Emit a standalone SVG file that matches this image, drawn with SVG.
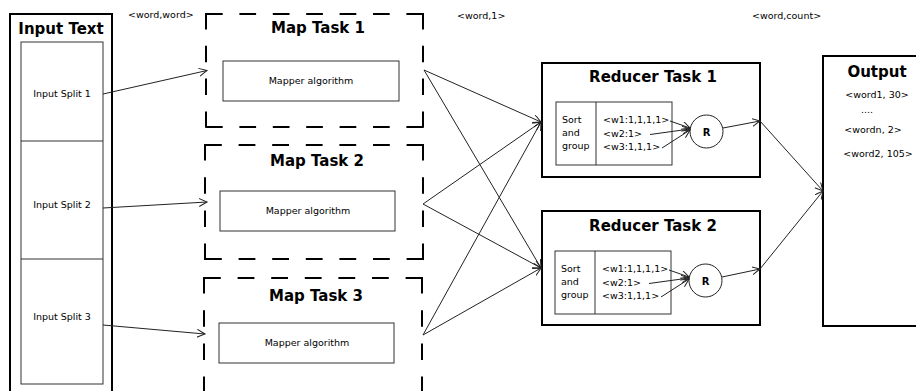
<svg xmlns="http://www.w3.org/2000/svg" width="916" height="391" viewBox="0 0 916 391">
  <style>
    text { font-family: "DejaVu Sans", "Liberation Sans", sans-serif; fill: #000; }
    .title { font-size: 15px; font-weight: bold; text-anchor: middle; }
    .small { font-size: 9.5px; }
    .mid { text-anchor: middle; }
    .frame { fill: #fff; stroke: #000; stroke-width: 2; }
    .inner { fill: none; stroke: #333; stroke-width: 1; }
    .dash { fill: none; stroke: #000; stroke-width: 2; }
    .conn { fill: none; stroke: #222; stroke-width: 1; marker-end: url(#open); }
  </style>
  <defs>
    <marker id="open" markerUnits="userSpaceOnUse" markerWidth="10" markerHeight="10" refX="8" refY="4" orient="auto">
      <path d="M0,0 L8,4 L0,8" fill="none" stroke="#222" stroke-width="1"/>
    </marker>
  </defs>
  <rect width="916" height="391" fill="#fff"/>

  <!-- input text column with its three splits -->
  <g id="input-text">
    <rect class="frame" x="10" y="14" width="102" height="390"/>
    <text class="title" x="61" y="34">Input Text</text>
    <rect class="inner" x="21" y="42" width="82" height="342"/>
    <line class="inner" x1="21" y1="141" x2="103" y2="141"/>
    <line class="inner" x1="21" y1="259" x2="103" y2="259"/>
  </g>
  <g id="split-1"><text class="small mid" x="62" y="96.5">Input Split 1</text></g>
  <g id="split-2"><text class="small mid" x="62" y="207.5">Input Split 2</text></g>
  <g id="split-3"><text class="small mid" x="62" y="319.5">Input Split 3</text></g>

  <!-- map tasks: dashed frames drawn side by side so dashes meet the corners -->
  <g id="map-task-1">
    <path class="dash" d="M206,14 H423" stroke-dasharray="16.7 16.7"/>
    <path class="dash" d="M206,127 H423" stroke-dasharray="16.7 16.7"/>
    <path class="dash" d="M206,13 V128" stroke-dasharray="16.4 16.4"/>
    <path class="dash" d="M423,13 V128" stroke-dasharray="16.4 16.4"/>
    <text class="title" x="318" y="33">Map Task 1</text>
    <rect class="inner" x="223" y="61" width="176" height="40"/>
    <text class="small mid" x="311" y="84">Mapper algorithm</text>
  </g>
  <g id="map-task-2">
    <path class="dash" d="M205,145 H423" stroke-dasharray="16.8 16.8"/>
    <path class="dash" d="M205,259 H423" stroke-dasharray="16.8 16.8"/>
    <path class="dash" d="M205,144 V260" stroke-dasharray="16.6 16.6"/>
    <path class="dash" d="M423,144 V260" stroke-dasharray="16.6 16.6"/>
    <text class="title" x="317" y="166">Map Task 2</text>
    <rect class="inner" x="220" y="191" width="175" height="40"/>
    <text class="small mid" x="308" y="214">Mapper algorithm</text>
  </g>
  <g id="map-task-3">
    <path class="dash" d="M204,278 H422" stroke-dasharray="16.8 16.8"/>
    <path class="dash" d="M204,277 V410" stroke-dasharray="16.6 16.6"/>
    <path class="dash" d="M422,277 V410" stroke-dasharray="16.6 16.6"/>
    <text class="title" x="316" y="301">Map Task 3</text>
    <rect class="inner" x="219" y="323" width="175" height="40"/>
    <text class="small mid" x="307" y="346">Mapper algorithm</text>
  </g>

  <!-- reducers -->
  <g id="reducer-task-1">
    <rect class="frame" x="542" y="63" width="218" height="114"/>
    <text class="title" x="653" y="82">Reducer Task 1</text>
    <rect class="inner" x="556" y="102" width="116" height="63"/>
    <line class="inner" x1="596" y1="102" x2="596" y2="165"/>
    <text class="small" x="562" y="123" font-size="9.8">Sort</text>
    <text class="small" x="562" y="136" font-size="9.8">and</text>
    <text class="small" x="562" y="149" font-size="9.8">group</text>
    <text class="small" x="603" y="123" font-size="9.8">&lt;w1:1,1,1,1&gt;</text>
    <text class="small" x="603" y="136.5" font-size="9.8">&lt;w2:1&gt;</text>
    <text class="small" x="603" y="149.5" font-size="9.8">&lt;w3:1,1,1&gt;</text>
    <circle cx="706.5" cy="131.5" r="16.5" fill="#fff" stroke="#222" stroke-width="1"/>
    <text x="706.5" y="135.5" font-size="10" font-weight="bold" text-anchor="middle">R</text>
  </g>
  <g id="reducer-task-2">
    <rect class="frame" x="542" y="211" width="218" height="114"/>
    <text class="title" x="653" y="231">Reducer Task 2</text>
    <rect class="inner" x="555" y="251" width="116" height="63"/>
    <line class="inner" x1="595" y1="251" x2="595" y2="314"/>
    <text class="small" x="561" y="272" font-size="9.8">Sort</text>
    <text class="small" x="561" y="285" font-size="9.8">and</text>
    <text class="small" x="561" y="298" font-size="9.8">group</text>
    <text class="small" x="602" y="272" font-size="9.8">&lt;w1:1,1,1,1&gt;</text>
    <text class="small" x="602" y="285.5" font-size="9.8">&lt;w2:1&gt;</text>
    <text class="small" x="602" y="298.5" font-size="9.8">&lt;w3:1,1,1&gt;</text>
    <circle cx="705.5" cy="280.5" r="16.5" fill="#fff" stroke="#222" stroke-width="1"/>
    <text x="705.5" y="284.5" font-size="10" font-weight="bold" text-anchor="middle">R</text>
  </g>

  <!-- output column -->
  <g id="output">
    <rect class="frame" x="823" y="56" width="110" height="270"/>
    <text class="title" x="877" y="77">Output</text>
    <text class="small mid" x="877" y="98">&lt;word1, 30&gt;</text>
    <text class="small mid" x="867" y="113">....</text>
    <text class="small mid" x="873" y="132.5">&lt;wordn, 2&gt;</text>
    <text class="small mid" x="878" y="156.5">&lt;word2, 105&gt;</text>
  </g>

  <!-- key/value labels over each stage -->
  <g id="labels">
    <text class="small" x="128" y="18">&lt;word,word&gt;</text>
    <text class="small" x="457" y="19">&lt;word,1&gt;</text>
    <text class="small" x="752" y="19">&lt;word,count&gt;</text>
  </g>

  <g id="connectors">
    <line class="conn" x1="103" y1="94" x2="207" y2="70.5"/>
    <line class="conn" x1="103" y1="208" x2="207" y2="202"/>
    <line class="conn" x1="103" y1="325" x2="205" y2="334"/>

    <line class="conn" x1="424" y1="70" x2="541" y2="122"/>
    <line class="conn" x1="424" y1="70" x2="541" y2="268"/>
    <line class="conn" x1="423" y1="204" x2="541" y2="122"/>
    <line class="conn" x1="423" y1="204" x2="541" y2="268"/>
    <line class="conn" x1="423" y1="335" x2="541" y2="122"/>
    <line class="conn" x1="423" y1="335" x2="541" y2="268"/>

    <line class="conn" x1="670" y1="121" x2="690" y2="128"/>
    <line class="conn" x1="650" y1="134.5" x2="690" y2="129"/>
    <line class="conn" x1="662" y1="148" x2="690" y2="130"/>
    <line class="conn" x1="723" y1="128" x2="760" y2="121"/>

    <line class="conn" x1="669" y1="270" x2="689" y2="277"/>
    <line class="conn" x1="649" y1="283.5" x2="689" y2="278"/>
    <line class="conn" x1="661" y1="297" x2="689" y2="279"/>
    <line class="conn" x1="722" y1="277" x2="760" y2="269"/>

    <line class="conn" x1="760" y1="121" x2="823" y2="191"/>
    <line class="conn" x1="760" y1="269" x2="823" y2="191"/>
  </g>
</svg>
